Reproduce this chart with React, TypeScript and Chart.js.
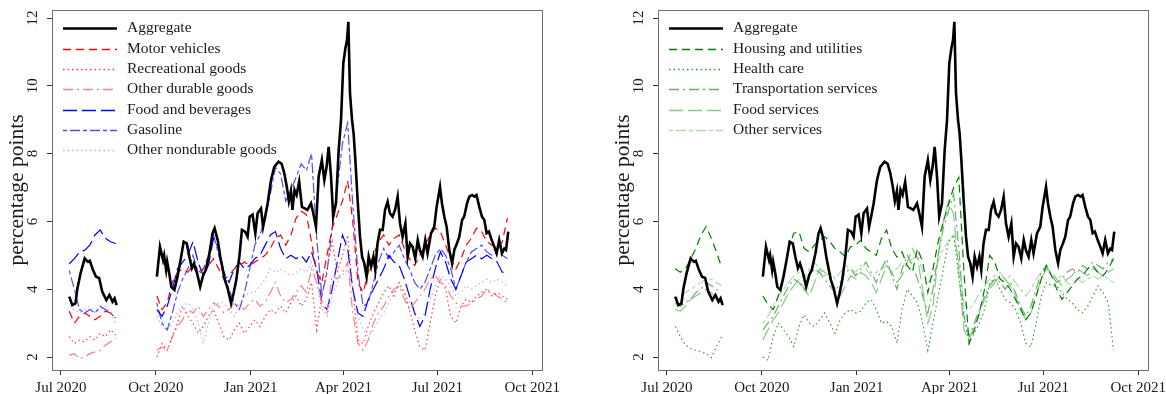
import React, { useEffect, useRef } from "react";
import { Chart, registerables } from "chart.js";

Chart.register(...registerables);

// ---------- axes ----------
// x values are days counted from 1 Jul 2020 (day 0)
const xTickDays = [0, 92, 184, 274, 365, 457];
const xTickLabels = ["Jul 2020", "Oct 2020", "Jan 2021", "Apr 2021", "Jul 2021", "Oct 2021"];
const yTickValues = [2, 4, 6, 8, 10, 12];
const gapDay = 73;

// ---------- component grid ----------
const seg1Days = [8, 13, 18, 23, 28, 33, 38, 43, 48, 53];
const seg2Days = [
  93, 98, 103, 108, 113, 118, 123, 128, 133, 138,
  143, 148, 153, 158, 163, 168, 173, 178, 183, 188,
  193, 198, 203, 208, 213, 218, 223, 228, 233, 238,
  243, 248, 253, 258, 263, 268, 273, 278, 283, 288,
  293, 298, 303, 308, 313, 318, 323, 328, 333, 338,
  343, 348, 353, 358, 363, 368, 373, 378, 383, 388,
  393, 398, 403, 408, 413, 418, 423, 428, 433,
];

// ---------- aggregate ----------
const aggDays1 = [8, 11, 14, 16, 19, 23, 26, 28, 31, 34, 37, 40, 44, 47, 50, 52, 54];
const aggVals1 = [3.78, 3.53, 3.58, 4.03, 4.47, 4.91, 4.81, 4.84, 4.57, 4.37, 4.33, 3.93, 3.68, 3.83, 3.63, 3.73, 3.53];
const aggDays2 = [
  93, 96, 99, 100, 102, 103, 105, 107, 110, 113,
  116, 119, 122, 124.5, 127, 129, 132, 135, 138, 140.5,
  144, 147, 149, 152, 154.5, 157, 159, 161.6, 165, 167.4,
  170, 173, 175.5, 178.6, 181, 183, 185.8, 188.5, 190.7, 194,
  196, 198, 200.4, 203.7, 206.9, 211, 214, 216.6, 219, 221,
  223, 224.5, 226.5, 228.5, 231, 233.7, 236, 239, 242.5, 244.7,
  247.3, 249.9, 253, 255.4, 257.6, 259.6, 261.9, 264, 266.7, 269.3,
  271.6, 273.8, 275.8, 277.4, 278.7, 280.3, 282.3, 283.8, 285.5, 287.7,
  290, 292, 294.2, 296.4, 298.4, 300.7, 303, 304.8, 307, 309.4,
  312, 314.3, 316.8, 319, 321.6, 324, 326.5, 328.8, 331.3, 334,
  336.2, 338.5, 341, 343.6, 346, 348, 350.7, 353.3, 355.5, 358.9,
  362, 364.3, 366, 367.6, 369.5, 371.8, 374, 376.6, 379.3, 381.5,
  384, 386.3, 389, 391, 393.8, 396, 398.6, 401, 403, 405.7,
  408.3, 410.6, 412.8, 415, 417.7, 420.3, 422.5, 425, 427.7, 430,
  431.6, 433.8,
];
const aggVals2 = [
  4.37, 5.25, 4.86, 5.0, 4.57, 4.81, 4.47, 4.07, 3.98, 4.37,
  4.86, 5.4, 5.35, 4.96, 4.62, 4.76, 4.47, 4.07, 4.42, 4.57,
  5.06, 5.65, 5.8, 5.45, 4.96, 4.57, 4.27, 4.03, 3.58, 3.88,
  4.27, 4.96, 5.75, 5.7, 5.55, 6.14, 6.2, 5.65, 6.24, 6.38,
  5.84, 6.14, 6.53, 7.22, 7.61, 7.76, 7.7, 7.42, 7.02, 6.6,
  6.9, 6.34, 6.93, 6.78, 7.17, 6.43, 6.39, 6.34, 6.53, 6.24,
  5.84, 7.32, 7.81, 7.22, 7.61, 8.2, 7.32, 6.14, 6.53, 8.1,
  8.99, 10.66, 11.1, 11.35, 11.89, 9.78, 8.99, 8.6, 7.81, 6.63,
  5.55, 4.96, 4.76, 4.37, 4.96, 4.66, 4.96, 4.57, 5.35, 5.75,
  5.75, 6.34, 6.58, 6.24, 6.14, 6.34, 6.73, 5.94, 5.55, 5.94,
  4.96, 5.35, 5.25, 4.91, 5.45, 5.16, 4.96, 5.45, 5.06, 5.65,
  5.84, 6.43, 6.73, 7.02, 6.53, 6.14, 5.84, 5.16, 4.76, 5.16,
  5.35, 5.55, 6.04, 6.14, 6.53, 6.73, 6.78, 6.73, 6.78, 6.43,
  6.14, 6.04, 5.65, 5.7, 5.45, 5.25, 5.06, 5.45, 5.06, 5.2,
  5.16, 5.7,
];

// ---------- goods (left panel) ----------
const motorVehicles1 = [3.35, 3.0, 3.2, 3.3, 3.2, 3.1, 3.2, 3.35, 3.3, 3.15];
const motorVehicles2 = [
  3.8, 3.4, 3.6, 4.2, 4.5, 4.6, 4.5, 4.7, 4.4, 4.6,
  4.7, 4.9, 4.6, 4.3, 4.4, 4.6, 4.7, 4.8, 4.7, 4.8,
  4.9, 5.0, 5.2, 5.5, 5.6, 5.3, 5.6, 6.1, 6.3, 6.2,
  5.4, 4.5, 4.2, 5.0, 5.8, 6.2, 6.6, 7.2, 6.0, 4.2,
  3.9, 4.5, 5.0, 5.4, 5.6, 5.3, 5.5, 5.6, 5.2, 4.9,
  4.7, 5.0, 5.3, 5.6, 5.8, 5.7, 5.3, 4.9, 4.6, 4.9,
  5.3, 5.5, 5.8, 5.7, 5.4, 5.3, 5.2, 5.4, 6.1,
];
const recreational1 = [2.6, 2.4, 2.5, 2.45, 2.6, 2.5, 2.7, 2.6, 2.8, 2.65];
const recreational2 = [
  2.0, 2.4, 2.2, 2.6, 3.0, 3.5, 3.2, 3.0, 2.7, 2.9,
  3.2, 3.4, 3.0, 2.6, 2.5, 2.8, 3.0, 2.7, 2.9, 3.1,
  2.9, 3.2, 3.4, 3.3, 3.5, 3.3, 3.6, 3.8, 3.5, 3.7,
  4.2, 2.8, 3.8, 4.6, 5.4, 4.5, 5.0, 5.6, 4.0, 2.5,
  2.4, 2.9, 3.3, 3.6, 3.9, 4.1, 3.8, 4.2, 3.9, 3.4,
  2.8, 2.3, 2.2, 3.0, 3.8, 4.3, 4.0, 3.2, 3.0, 3.5,
  3.7, 3.6, 3.8, 3.9, 4.0, 3.8, 3.9, 3.8, 3.7,
];
const otherDurable1 = [2.05, 2.1, 1.95, 2.0, 2.1, 2.15, 2.2, 2.35, 2.45, 2.55];
const otherDurable2 = [
  2.2, 2.3, 2.2, 2.6, 2.9, 3.1, 3.4, 3.3, 3.5, 3.2,
  3.4, 3.6, 3.5, 3.3, 3.4, 3.6, 3.5, 3.4, 3.6, 3.7,
  3.5, 3.6, 3.9, 4.2, 3.8, 3.6, 3.7, 3.9, 4.1, 3.9,
  4.6, 4.2, 3.6, 3.3, 4.4, 4.3, 4.5, 4.8, 3.3, 2.4,
  2.2, 2.5, 3.0, 3.3, 3.5, 3.8, 4.0, 4.1, 3.7, 3.4,
  3.6, 3.8, 4.0, 4.3, 4.4, 4.2, 4.1, 3.8, 3.6, 3.5,
  3.5, 3.6, 3.7, 3.8, 4.0, 3.9, 3.8, 3.7, 3.6,
];
const foodBev1 = [4.75, 4.9, 5.1, 5.15, 5.3, 5.6, 5.75, 5.5, 5.4, 5.35];
const foodBev2 = [
  3.4, 3.2, 3.5, 4.0, 4.6, 4.8, 5.0, 5.4, 4.8, 4.4,
  4.7, 5.5, 5.2, 4.5, 4.2, 4.6, 4.8, 4.6, 4.7, 4.9,
  5.0, 5.3, 5.6, 5.7, 5.2, 4.9, 5.0, 4.9, 5.0, 4.8,
  5.1, 4.6, 3.6, 3.4, 4.0, 4.8, 5.6, 5.2, 4.0, 3.3,
  3.2, 3.7, 4.0, 4.3, 4.6, 5.0, 4.8, 4.7, 4.3, 3.8,
  3.3, 2.9, 3.2, 4.0, 4.6, 5.1, 4.8, 4.3, 4.0, 4.4,
  4.8, 4.9, 5.0, 4.9, 5.0, 4.9, 4.8, 4.5, 4.5,
];
const gasoline1 = [4.55, 4.0, 3.4, 3.3, 3.4, 3.3, 3.5, 3.4, 3.3, 3.15];
const gasoline2 = [
  3.6, 3.0, 2.8, 3.3, 3.9, 4.3, 4.6, 5.0, 4.5, 4.6,
  5.0, 5.6, 5.0, 4.4, 4.0, 3.6, 3.4, 3.9, 4.6, 5.3,
  5.6, 6.1, 6.8, 7.6, 7.4, 6.6, 6.9, 7.3, 7.7, 7.5,
  8.0, 5.5, 3.8, 4.5, 5.8, 7.0, 8.3, 8.9, 6.5, 4.5,
  3.5, 3.6, 4.2, 4.8, 5.2, 4.9, 5.1, 5.3, 4.9, 4.6,
  4.2, 4.0, 4.2, 4.6, 5.0, 5.2, 5.0, 4.6, 4.0, 4.4,
  4.8, 5.1, 5.2, 5.3, 5.1, 5.0, 5.1, 5.0, 4.9,
];
const otherNondurable1 = [3.5, 3.4, 3.3, 3.4, 3.5, 3.3, 3.4, 3.5, 3.3, 3.0];
const otherNondurable2 = [
  3.2, 2.9, 2.8, 3.0, 3.3, 3.5, 3.6, 3.4, 3.0, 2.4,
  3.0, 3.5, 3.6, 3.6, 3.4, 3.2, 3.5, 3.8, 3.9, 3.9,
  4.1, 4.3, 4.6, 4.5, 4.6, 4.5, 4.4, 4.5, 4.6, 4.5,
  4.8, 4.2, 3.4, 3.2, 3.8, 4.2, 4.4, 4.6, 4.0, 3.2,
  2.8, 2.6, 2.8, 3.1, 3.3, 3.6, 3.9, 4.1, 3.9, 3.6,
  3.3, 3.1, 3.3, 3.7, 4.1, 4.4, 4.3, 4.1, 3.8, 3.9,
  4.1, 4.0, 4.1, 4.2, 4.3, 4.2, 4.3, 4.2, 4.1,
];

// ---------- services (right panel) ----------
const housing1 = [4.6, 4.5, 4.6, 4.9, 5.2, 5.6, 5.85, 5.5, 5.1, 4.65];
const housing2 = [
  3.8, 3.55, 3.4, 3.8, 4.4, 5.2, 5.65, 5.7, 5.2, 5.1,
  5.3, 5.45, 5.55, 5.4, 5.2, 5.1, 4.95, 5.25, 5.3, 5.45,
  5.2, 5.1, 5.0, 5.5, 5.75, 5.2, 4.95, 5.1, 4.7, 4.5,
  5.2, 4.8, 3.9, 4.6, 5.4, 6.0, 6.5, 7.0, 7.3, 4.5,
  2.4, 2.8, 3.3, 4.0, 5.0, 4.8, 4.3, 4.2, 4.0, 3.7,
  3.4, 3.1, 3.3, 3.8, 4.3, 4.7, 4.4, 4.0, 3.7, 3.9,
  4.1, 4.3, 4.4, 4.6, 4.7, 4.5, 4.4, 4.6, 4.9,
];
const healthCare1 = [2.9, 2.6, 2.35, 2.25, 2.2, 2.15, 2.1, 1.98, 2.3, 2.6];
const healthCare2 = [
  2.0, 1.9, 2.6, 3.0, 2.8, 2.6, 2.3, 2.9, 3.25, 3.0,
  2.9, 3.1, 3.3, 3.0, 2.7, 3.1, 3.3, 3.4, 3.3, 3.35,
  3.6, 3.7, 3.4, 3.0, 3.05, 2.9, 2.4, 3.4, 4.0, 3.8,
  3.6, 3.0, 2.2, 3.0, 3.8, 4.6, 5.4, 5.6, 4.4, 3.2,
  2.4, 2.7, 3.0, 3.4, 4.2, 4.3, 4.0, 3.7, 3.6, 3.4,
  3.0, 2.4, 2.3, 3.0, 3.8, 4.2, 4.1, 4.1, 3.9, 3.7,
  3.6, 3.4, 3.3, 3.5, 3.8, 4.1, 3.9, 3.6, 2.2,
];
const transport1 = [3.6, 3.5, 3.6, 3.7, 3.9, 4.0, 4.2, 4.1, 4.0, 3.9];
const transport2 = [
  2.8, 3.0, 3.2, 3.5, 3.8, 4.1, 4.3, 4.2, 4.0, 4.4,
  4.6, 4.5, 4.3, 4.1, 3.9, 4.2, 4.5, 4.6, 4.4, 4.6,
  4.8, 4.5, 4.2, 4.6, 4.9, 4.4, 4.0, 4.6, 5.0, 4.7,
  4.3, 3.8, 3.3, 4.0, 5.0, 5.8, 6.3, 6.8, 5.2, 3.2,
  2.6, 3.0, 3.4, 3.8, 4.1, 4.3, 4.2, 4.0, 4.2, 3.9,
  3.5, 3.2, 3.5, 4.0, 4.5, 4.7, 4.4, 4.2, 4.3, 4.5,
  4.6, 4.5, 4.7, 4.6, 4.8, 4.7, 4.6, 4.8, 4.9,
];
const foodServices1 = [3.4, 3.35, 3.5, 3.7, 3.8, 3.9, 4.0, 3.9, 3.7, 3.6];
const foodServices2 = [
  2.5, 2.8, 3.1, 3.3, 3.6, 3.9, 4.1, 4.3, 4.0, 3.8,
  4.2, 4.6, 4.5, 4.3, 4.0, 3.8, 4.1, 4.4, 4.3, 4.5,
  4.4, 4.2, 3.9, 4.3, 4.7, 4.5, 4.2, 4.4, 4.8, 5.2,
  4.9, 4.0, 3.0, 3.5, 5.0, 6.0, 6.6, 6.2, 4.5, 2.8,
  2.5, 2.9, 3.3, 3.7, 4.0, 4.2, 4.4, 4.3, 4.1, 3.8,
  3.4, 3.1, 3.3, 3.8, 4.3, 4.6, 4.5, 4.3, 4.1, 4.3,
  4.4, 4.6, 4.5, 4.4, 4.6, 4.5, 4.4, 4.5, 4.6,
];
const otherServices1 = [3.7, 3.8, 3.9, 4.0, 4.1, 4.2, 4.3, 4.3, 4.2, 4.1];
const otherServices2 = [
  3.0, 3.2, 3.5, 3.8, 4.0, 4.2, 4.4, 4.5, 4.3, 4.6,
  4.8, 4.6, 4.4, 4.5, 4.3, 4.5, 4.7, 4.6, 4.5, 4.7,
  4.6, 4.4, 4.5, 4.6, 4.7, 4.5, 4.6, 4.8, 4.7, 4.9,
  5.0, 4.5, 4.2, 4.4, 4.8, 5.2, 5.4, 5.6, 4.8, 3.6,
  3.4, 3.6, 3.9, 4.1, 4.3, 4.4, 4.5, 4.3, 4.4, 4.2,
  4.0, 3.8, 4.0, 4.3, 4.5, 4.6, 4.4, 4.3, 4.4, 4.2,
  4.1, 4.3, 4.2, 4.3, 4.4, 4.3, 4.4, 4.3, 4.2,
];

// ---------- styles ----------
const FONT = "'Liberation Serif', 'Times New Roman', serif";
const TEXT = "#1a1a1a";
const DASHED = [8, 5];
const DOTTED = [1.5, 3];
const DOTDASH = [10, 4, 2, 4];
const LONGDASH = [14, 5];
const TWODASH = [4, 3, 10, 3];

type Pt = { x: number; y: number | null };

function joinSegments(d1: number[], v1: number[], d2: number[], v2: number[]): Pt[] {
  return [
    ...d1.map((d, i) => ({ x: d, y: v1[i] })),
    { x: gapDay, y: null },
    ...d2.map((d, i) => ({ x: d, y: v2[i] })),
  ];
}

function comp(label: string, v1: number[], v2: number[], color: string, dash: number[]) {
  return {
    label,
    data: joinSegments(seg1Days, v1, seg2Days, v2),
    borderColor: color,
    borderWidth: 1.2,
    borderDash: dash,
    pointRadius: 0,
    fill: false,
    spanGaps: false,
    tension: 0,
  };
}

function aggregate() {
  return {
    label: "Aggregate",
    data: joinSegments(aggDays1, aggVals1, aggDays2, aggVals2),
    borderColor: "#000000",
    borderWidth: 2.6,
    borderDash: [] as number[],
    pointRadius: 0,
    fill: false,
    spanGaps: false,
    tension: 0,
  };
}

const leftDatasets = () => [
  aggregate(),
  comp("Motor vehicles", motorVehicles1, motorVehicles2, "rgb(255,0,0)", DASHED),
  comp("Recreational goods", recreational1, recreational2, "rgb(255,64,64)", DOTTED),
  comp("Other durable goods", otherDurable1, otherDurable2, "rgb(255,128,128)", DOTDASH),
  comp("Food and beverages", foodBev1, foodBev2, "rgb(0,0,255)", LONGDASH),
  comp("Gasoline", gasoline1, gasoline2, "rgb(77,77,255)", TWODASH),
  comp("Other nondurable goods", otherNondurable1, otherNondurable2, "rgb(178,178,255)", DOTTED),
];

const rightDatasets = () => [
  aggregate(),
  comp("Housing and utilities", housing1, housing2, "rgb(0,128,0)", DASHED),
  comp("Health care", healthCare1, healthCare2, "rgb(51,160,51)", DOTTED),
  comp("Transportation services", transport1, transport2, "rgb(102,179,102)", DOTDASH),
  comp("Food services", foodServices1, foodServices2, "rgb(140,198,140)", LONGDASH),
  comp("Other services", otherServices1, otherServices2, "rgb(178,217,178)", TWODASH),
];

const framePlugin = {
  id: "rframe",
  afterDraw(chart: any) {
    const { ctx, chartArea: a } = chart;
    ctx.save();
    ctx.setLineDash([]);
    ctx.strokeStyle = "#707070";
    ctx.lineWidth = 1;
    ctx.strokeRect(Math.round(a.left) + 0.5, Math.round(a.top) + 0.5, Math.round(a.right - a.left), Math.round(a.bottom - a.top));
    // legend
    const x0 = a.left + 11;
    const x1 = a.left + 65;
    const tx = a.left + 75;
    const y0 = a.top + 18.3;
    const dy = 20.3;
    chart.data.datasets.forEach((ds: any, i: number) => {
      const yc = y0 + i * dy;
      const y = Math.round(yc) + 0.5;
      ctx.beginPath();
      ctx.strokeStyle = ds.borderColor;
      ctx.lineWidth = Math.max(1.6, ds.borderWidth);
      ctx.setLineDash(ds.borderDash || []);
      ctx.moveTo(x0, y);
      ctx.lineTo(x1, y);
      ctx.stroke();
      ctx.setLineDash([]);
      ctx.fillStyle = TEXT;
      ctx.font = `15.5px ${FONT}`;
      ctx.textAlign = "left";
      ctx.textBaseline = "middle";
      ctx.fillText(ds.label, tx, yc);
    });
    ctx.restore();
  },
};

function Panel({ datasets, left }: { datasets: () => any[]; left: number }) {
  const ref = useRef<HTMLCanvasElement>(null);
  useEffect(() => {
    const chart = new Chart(ref.current as HTMLCanvasElement, {
      type: "line",
      data: { datasets: datasets() },
      options: {
        animation: false,
        responsive: false,
        events: [],
        layout: { padding: { left: 0, right: 18, top: 10, bottom: 0 } },
        plugins: { legend: { display: false }, tooltip: { enabled: false } },
        elements: { point: { radius: 0 } },
        scales: {
          x: {
            type: "linear",
            min: -8.7,
            max: 466.5,
            afterBuildTicks: (s: any) => {
              s.ticks = xTickDays.map((v) => ({ value: v }));
            },
            afterFit: (s: any) => {
              s.height = 24;
              s.paddingLeft = 0;
              s.paddingRight = 0;
            },
            ticks: {
              autoSkip: false,
              minRotation: 0,
              maxRotation: 0,
              padding: 4,
              color: TEXT,
              font: { family: FONT, size: 15 },
              callback: (_v: any, i: number) => xTickLabels[i],
            },
            grid: { display: true, drawOnChartArea: false, drawTicks: true, tickLength: 5, color: "#333333", lineWidth: 1 },
            border: { display: true, color: "#333333", width: 1 },
          },
          y: {
            type: "linear",
            min: 1.617,
            max: 12.236,
            afterBuildTicks: (s: any) => {
              s.ticks = yTickValues.map((v) => ({ value: v }));
            },
            afterFit: (s: any) => {
              s.width = 52;
              s.paddingTop = 0;
              s.paddingBottom = 0;
            },
            ticks: {
              minRotation: 90,
              maxRotation: 90,
              crossAlign: "center",
              padding: 6.5,
              color: TEXT,
              font: { family: FONT, size: 15 },
              callback: (v: any) => String(v),
            },
            grid: { display: true, drawOnChartArea: false, drawTicks: true, tickLength: 5, color: "#333333", lineWidth: 1 },
            border: { display: true, color: "#333333", width: 1 },
            title: {
              display: true,
              text: "percentage points",
              color: TEXT,
              font: { family: FONT, size: 21.5 },
              padding: { top: 4, bottom: 0 },
            },
          },
        },
      } as any,
      plugins: [framePlugin],
    });
    return () => chart.destroy();
  }, []);
  return (
    <canvas
      ref={ref}
      width={560}
      height={394}
      style={{ position: "absolute", left, top: 0, width: 560, height: 394 }}
    />
  );
}

export default function App() {
  return (
    <div style={{ position: "fixed", left: 0, top: 0, width: 1166, height: 394, background: "#ffffff", overflow: "hidden" }}>
      <Panel datasets={leftDatasets} left={0} />
      <Panel datasets={rightDatasets} left={606} />
    </div>
  );
}
